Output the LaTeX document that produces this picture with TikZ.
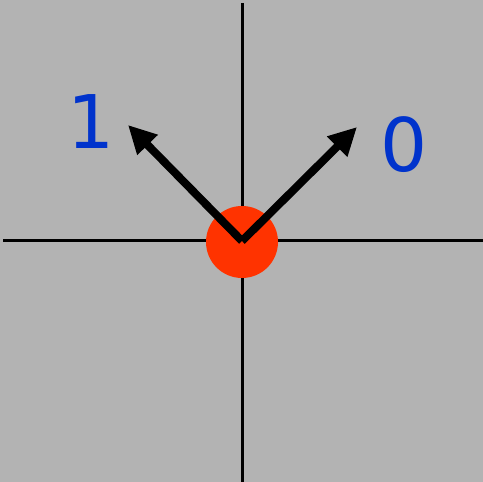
\documentclass[tikz,border=0pt]{standalone}
\usepackage{fontspec}
\setmainfont{DejaVu Sans}
\usetikzlibrary{arrows.meta}
\definecolor{bg}{HTML}{B3B3B3}
\definecolor{dotred}{HTML}{FF3300}
\definecolor{labblue}{HTML}{0033CC}
\tikzset{
  axis/.style={black, line width=3pt},
  vec/.style={black, line width=8pt, -{Triangle[length=28pt,width=27pt]}},
  lab/.style={text=labblue, font=\fontsize{74}{74}\selectfont, inner sep=0pt},
}
\begin{document}
\begin{tikzpicture}[x=1pt,y=1pt]
\fill[bg] (0,0) rectangle (483,482);
\useasboundingbox (0,0) rectangle (483,482);
\coordinate (top) at (242,479);
\coordinate (bot) at (242,0);
\coordinate (left) at (3,241);
\coordinate (right) at (483,241);
\coordinate (o) at (242,241);
\draw[axis] (top) -- (bot);
\draw[axis] (left) -- (right);
\node[circle, fill=dotred, minimum size=72pt, inner sep=0pt] (dot) at (242,240) {};
\coordinate (t1) at (128,357);
\coordinate (t0) at (357,355);
\draw[vec] (o) -- (t1);
\draw[vec] (o) -- (t0);
\node[lab] (l1) at (91,360) {1};
\node[lab] (l0) at (404,337) {0};
\end{tikzpicture}
\end{document}
